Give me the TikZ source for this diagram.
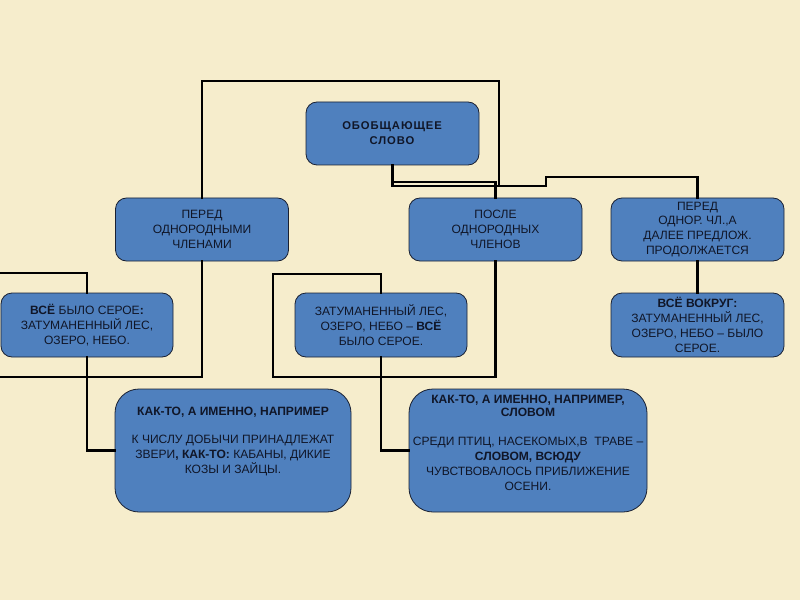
\documentclass[tikz,border=0pt]{standalone}
\usepackage{fontspec}
\setmainfont{Liberation Sans}
\newfontfamily\spacedbold[LetterSpace=8]{Liberation Sans}
\definecolor{parch}{RGB}{246,237,204}
\definecolor{boxblue}{RGB}{79,128,190}
\definecolor{boxline}{RGB}{25,32,50}
\definecolor{txt}{RGB}{16,22,40}
\tikzset{
  box/.style={draw=boxline, line width=0.8pt, fill=boxblue, rounded corners=11bp,
    align=center, text=txt, inner sep=0pt, font=\fontsize{12.1}{15}\selectfont},
  smallbox/.style={box, minimum width=173bp, minimum height=63bp},
  bigbox/.style={box, rounded corners=24bp, minimum width=237bp, minimum height=123bp},
  boxtext/.style={align=center, text=txt, font=\fontsize{12.1}{15}\selectfont, anchor=north, inner sep=0pt},
  conn/.style={draw=black, line width=2.8pt, line cap=rect, line join=miter}
}
\begin{document}
\begin{tikzpicture}[x=1bp,y=-1bp]
\useasboundingbox (0,0) rectangle (800,600);
\fill[parch] (0,0) rectangle (800,600);

% nodes
\node[smallbox, font=\fontsize{11.3}{15}\selectfont] (top) at (392.5,133.5) {\textbf{\spacedbold ОБОБЩАЮЩЕЕ}\\\textbf{\spacedbold СЛОВО}};
\node[smallbox] (b1) at (202,229.5) {ПЕРЕД\\ОДНОРОДНЫМИ\\ЧЛЕНАМИ};
\node[smallbox] (b2) at (495.5,229.5) {ПОСЛЕ\\ОДНОРОДНЫХ\\ЧЛЕНОВ};
\node[smallbox] (b3) at (697.5,229.5) {ПЕРЕД\\ОДНОР. ЧЛ.,А\\ДАЛЕЕ ПРЕДЛОЖ.\\ПРОДОЛЖАЕТСЯ};
\node[smallbox, minimum width=172bp, minimum height=64bp] (c1) at (87,325) {\textbf{ВСЁ} БЫЛО СЕРОЕ\textbf{:}\\ЗАТУМАНЕННЫЙ ЛЕС,\\ОЗЕРО, НЕБО.};
\node[smallbox, minimum width=172bp, minimum height=64bp] (c2) at (381,325) {ЗАТУМАНЕННЫЙ ЛЕС,\\ОЗЕРО, НЕБО – \textbf{ВСЁ}\\БЫЛО СЕРОЕ.};
\node[smallbox, minimum height=64bp] (c3) at (697.5,325) {\textbf{ВСЁ ВОКРУГ:}\\ЗАТУМАНЕННЫЙ ЛЕС,\\ОЗЕРО, НЕБО – БЫЛО\\СЕРОЕ.};
\node[bigbox, minimum width=236bp] (d1) at (233,450.5) {};
\node[boxtext] (d1t) at (233,407)
  {\textbf{КАК-ТО, А ИМЕННО, НАПРИМЕР}\\[13bp]К ЧИСЛУ ДОБЫЧИ ПРИНАДЛЕЖАТ\\ЗВЕРИ\textbf{, КАК-ТО:} КАБАНЫ, ДИКИЕ\\КОЗЫ И ЗАЙЦЫ.};
\node[bigbox, minimum width=238bp] (d2) at (528,450.5) {};
\node[boxtext] (d2t) at (528,395)
  {\textbf{КАК-ТО, А ИМЕННО, НАПРИМЕР,}\\[-2bp]\textbf{СЛОВОМ}\\[14bp]СРЕДИ ПТИЦ, НАСЕКОМЫХ,В\ \ ТРАВЕ –\\\textbf{СЛОВОМ, ВСЮДУ}\\ЧУВСТВОВАЛОСЬ ПРИБЛИЖЕНИЕ\\ОСЕНИ.};

% free ends
\coordinate (loopend) at (499,185);
\coordinate (lefttop) at (0,273);
\coordinate (leftbot) at (0,377);

% connectors
\draw[conn] (b1.north) |- (499,81) -- (loopend);
\draw[conn] (top.south) -- (392.5,182) -| (b2.north);
\draw[conn] (top.south) -- (392.5,186) -- (546,186) -- (546,177) -| (b3.north);
\draw[conn] (b1.south) |- (leftbot);
\draw[conn] (lefttop) -| (c1.north);
\draw[conn] (c1.south) |- (d1.west);
\draw[conn] (b2.south) |- (273,377) -- (273,274) -| (c2.north);
\draw[conn] (c2.south) |- (d2.west);
\draw[conn] (b3.south) -- (c3.north);
\end{tikzpicture}
\end{document}
